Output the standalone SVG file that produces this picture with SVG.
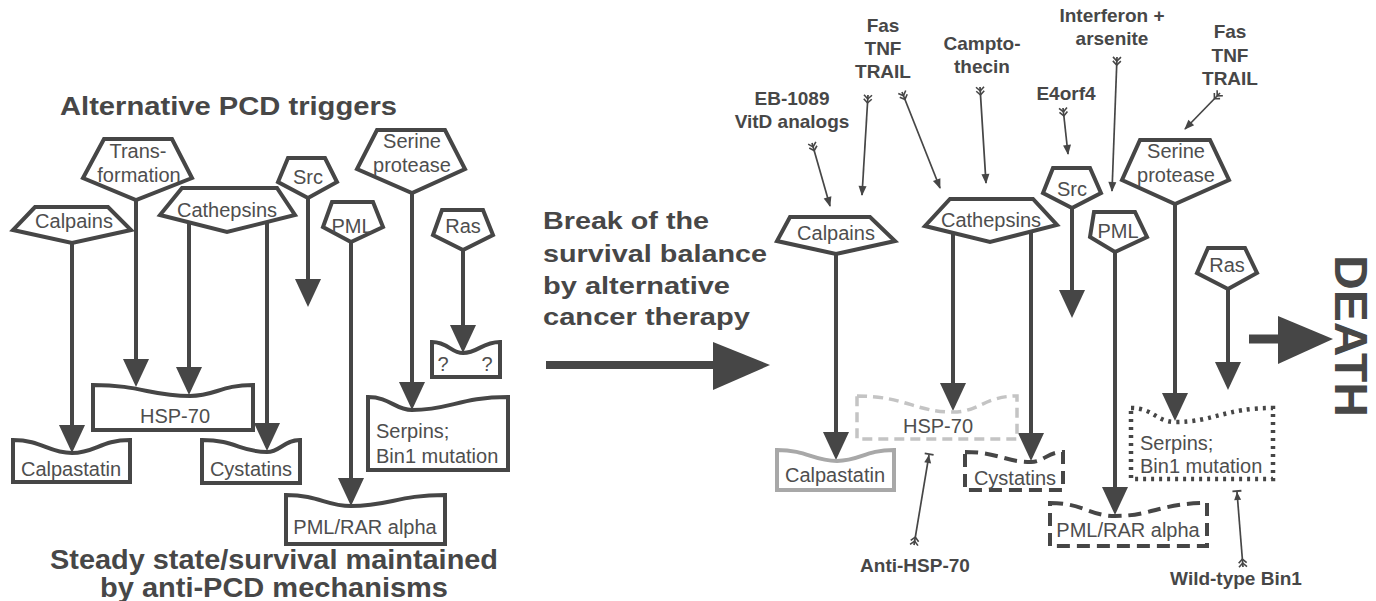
<svg xmlns="http://www.w3.org/2000/svg" width="1376" height="601" viewBox="0 0 1376 601">
  <defs>
    <style>
      .bg { fill: #ffffff; }
      .node { fill: #ffffff; stroke: #464646; stroke-width: 4; stroke-linejoin: miter; }
      .lbl { font-family: "Liberation Sans", Arial, sans-serif; font-size: 20px; fill: #4e4e4e; text-anchor: middle; }
      .lbl-l { text-anchor: start; }
      .head { font-family: "Liberation Sans", Arial, sans-serif; font-weight: bold; fill: #474747; }
      .agent { font-family: "Liberation Sans", Arial, sans-serif; font-weight: bold; font-size: 19px; fill: #474747; text-anchor: middle; }
      .flow { stroke: #464646; stroke-width: 4; fill: none; marker-end: url(#bigHead); }
      .thin { stroke: #464646; stroke-width: 1.7; fill: none; marker-start: url(#tail); marker-end: url(#smallHead); }
      .block { stroke: #464646; stroke-width: 1.7; fill: none; marker-start: url(#tail); marker-end: url(#barHead); }
      .grey { stroke: #a8a8a8; }
      .dash-light { stroke: #c4c4c4; stroke-width: 3.5; stroke-dasharray: 10 6; }
      .dash-dark { stroke-dasharray: 13 7; }
      .dotted { stroke-width: 4.5; stroke-dasharray: 3 5; }
    </style>
    <marker id="bigHead" markerUnits="userSpaceOnUse" markerWidth="28" markerHeight="26" refX="20" refY="13" orient="auto" overflow="visible">
      <path d="M0,0 L28,13 L0,26 Z" fill="#464646"/>
    </marker>
    <marker id="smallHead" markerUnits="userSpaceOnUse" markerWidth="10" markerHeight="8" refX="9" refY="4" orient="auto" overflow="visible">
      <path d="M0,0 L10,4 L0,8 Z" fill="#464646"/>
    </marker>
    <marker id="barHead" markerUnits="userSpaceOnUse" markerWidth="10" markerHeight="10" refX="8" refY="5" orient="auto" overflow="visible">
      <path d="M0,1.5 L8,5 L0,8.5 Z" fill="#464646"/>
      <rect x="8" y="0.5" width="1.8" height="9" fill="#464646"/>
    </marker>
    <marker id="tail" markerUnits="userSpaceOnUse" markerWidth="10" markerHeight="10" refX="0" refY="5" orient="auto" overflow="visible">
      <path d="M0,1 L4,5 L0,9 M4,1 L8,5 L4,9" fill="none" stroke="#464646" stroke-width="1.6"/>
    </marker>
  </defs>

  <rect class="bg" x="0" y="0" width="1376" height="601"/>

  <!-- headings -->
  <g id="headings">
    <text class="head" x="60" y="115" font-size="26" textLength="337" lengthAdjust="spacingAndGlyphs">Alternative PCD triggers</text>
    <text class="head" x="274" y="569" font-size="27" text-anchor="middle" textLength="448" lengthAdjust="spacingAndGlyphs">Steady state/survival maintained</text>
    <text class="head" x="274" y="597" font-size="27" text-anchor="middle" textLength="348" lengthAdjust="spacingAndGlyphs">by anti-PCD mechanisms</text>
    <g class="head" font-size="24">
      <text x="543" y="229" textLength="166" lengthAdjust="spacingAndGlyphs">Break of the</text>
      <text x="543" y="262" textLength="224" lengthAdjust="spacingAndGlyphs">survival balance</text>
      <text x="543" y="294" textLength="187" lengthAdjust="spacingAndGlyphs">by alternative</text>
      <text x="543" y="325" textLength="207" lengthAdjust="spacingAndGlyphs">cancer therapy</text>
    </g>
    <text class="head" font-size="46" transform="translate(1335,255) rotate(90)" textLength="162" lengthAdjust="spacingAndGlyphs">DEATH</text>
  </g>

  <!-- connectors -->
  <g id="connectors">
    <!-- left: steady state -->
    <line class="flow" x1="72" y1="243" x2="72" y2="445"/>
    <line class="flow" x1="136" y1="200" x2="136" y2="379"/>
    <line class="flow" x1="189" y1="222" x2="189" y2="387"/>
    <line class="flow" x1="267" y1="222" x2="267" y2="443"/>
    <line class="flow" x1="308" y1="198" x2="308" y2="299"/>
    <line class="flow" x1="351" y1="242" x2="351" y2="498"/>
    <line class="flow" x1="412" y1="193" x2="412" y2="402"/>
    <line class="flow" x1="463" y1="250" x2="463" y2="345"/>

    <!-- middle transition arrow -->
    <line x1="546" y1="365" x2="716" y2="365" stroke="#464646" stroke-width="8"/>
    <path d="M713,342 L770,365 L713,390 Z" fill="#464646"/>

    <!-- right: after therapy -->
    <line class="flow" x1="836" y1="254" x2="836" y2="452"/>
    <line class="flow" x1="953" y1="233" x2="953" y2="403"/>
    <line class="flow" x1="1031" y1="232" x2="1031" y2="453"/>
    <line class="flow" x1="1072" y1="208" x2="1072" y2="310"/>
    <line class="flow" x1="1115" y1="252" x2="1115" y2="507"/>
    <line class="flow" x1="1175" y1="204" x2="1175" y2="413"/>
    <line class="flow" x1="1228" y1="289" x2="1228" y2="382"/>

    <!-- death arrow -->
    <line x1="1249" y1="339" x2="1282" y2="339" stroke="#464646" stroke-width="9"/>
    <path d="M1278,316 L1333,339 L1278,364 Z" fill="#464646"/>

    <!-- therapy agents -->
    <line class="thin" x1="812" y1="143" x2="830" y2="206"/>
    <line class="thin" x1="868" y1="95" x2="862" y2="195"/>
    <line class="thin" x1="902" y1="92" x2="940" y2="188"/>
    <line class="thin" x1="980" y1="87" x2="986" y2="183"/>
    <line class="thin" x1="1063" y1="108" x2="1068" y2="154"/>
    <line class="thin" x1="1117" y1="57" x2="1112" y2="191"/>
    <line class="thin" x1="1220" y1="93" x2="1185" y2="129"/>
    <line class="block" x1="914" y1="545" x2="929" y2="455"/>
    <line class="block" x1="1243" y1="567" x2="1237" y2="492"/>
  </g>

  <!-- left: trigger nodes -->
  <g id="calpains-l">
    <polygon class="node" points="35,207 108,207 131,230 72,243 13,230"/>
    <text class="lbl" x="74" y="228">Calpains</text>
  </g>
  <g id="transformation-l">
    <polygon class="node" points="104,139 172,139 192,178 136,200 83,178"/>
    <text class="lbl" x="138" y="158">Trans-</text>
    <text class="lbl" x="139" y="182">formation</text>
  </g>
  <g id="cathepsins-l">
    <polygon class="node" points="182,188 277,188 295,215 227,232 160,215"/>
    <text class="lbl" x="227" y="217">Cathepsins</text>
  </g>
  <g id="src-l">
    <polygon class="node" points="288,158 325,158 337,182 308,198 278,182"/>
    <text class="lbl" x="308" y="184">Src</text>
  </g>
  <g id="pml-l">
    <polygon class="node" points="332,202 373,202 383,227 351,242 323,227"/>
    <text class="lbl" x="352" y="233">PML</text>
  </g>
  <g id="serine-l">
    <polygon class="node" points="377,130 445,130 465,169 412,193 357,169"/>
    <text class="lbl" x="412" y="148">Serine</text>
    <text class="lbl" x="412" y="172">protease</text>
  </g>
  <g id="ras-l">
    <polygon class="node" points="442,210 483,210 493,235 463,250 433,235"/>
    <text class="lbl" x="463" y="233">Ras</text>
  </g>

  <!-- left: protective nodes -->
  <g id="calpastatin-l">
    <path class="node" d="M13,440 C42,440 48,453 72,453 C95,453 101,440 130,440 L130,482 L13,482 Z"/>
    <text class="lbl" x="71" y="476">Calpastatin</text>
  </g>
  <g id="hsp70-l">
    <path class="node" d="M93,385 C141,385 151,396 190,396 C215,396 221,385 253,385 L253,430 L93,430 Z"/>
    <text class="lbl" x="175" y="423">HSP-70</text>
  </g>
  <g id="cystatins-l">
    <path class="node" d="M202,440 C235,440 241,452 267,452 C280,452 284,440 300,440 L300,483 L202,483 Z"/>
    <text class="lbl" x="251" y="476">Cystatins</text>
  </g>
  <g id="pmlrar-l">
    <path class="node" d="M286,495 C319,495 326,506 351,506 C389,506 398,495 445,495 L445,544 L286,544 Z"/>
    <text class="lbl" x="365" y="534">PML/RAR alpha</text>
  </g>
  <g id="serpins-l">
    <path class="node" d="M368,397 C390,397 395,410 412,410 C450,410 460,397 508,397 L508,470 L368,470 Z"/>
    <text class="lbl lbl-l" x="376" y="438">Serpins;</text>
    <text class="lbl lbl-l" x="376" y="463">Bin1 mutation</text>
  </g>
  <g id="unknown-l">
    <path class="node" d="M432,342 C448,342 451,353 463,353 C478,353 482,342 500,342 L500,377 L432,377 Z"/>
    <text class="lbl" x="443" y="371" font-size="18">?</text>
    <text class="lbl" x="487" y="371" font-size="18">?</text>
  </g>

  <!-- right: trigger nodes -->
  <g id="calpains-r">
    <polygon class="node" points="790,217 870,217 895,241 836,254 777,241"/>
    <text class="lbl" x="836" y="240">Calpains</text>
  </g>
  <g id="cathepsins-r">
    <polygon class="node" points="950,199 1033,199 1057,225 990,242 925,226"/>
    <text class="lbl" x="991" y="227">Cathepsins</text>
  </g>
  <g id="src-r">
    <polygon class="node" points="1053,168 1090,168 1101,193 1072,208 1043,193"/>
    <text class="lbl" x="1072" y="196">Src</text>
  </g>
  <g id="pml-r">
    <polygon class="node" points="1094,212 1135,212 1147,237 1115,252 1090,237"/>
    <text class="lbl" x="1118" y="238">PML</text>
  </g>
  <g id="serine-r">
    <polygon class="node" points="1140,140 1210,140 1229,180 1175,204 1122,180"/>
    <text class="lbl" x="1176" y="158">Serine</text>
    <text class="lbl" x="1176" y="182">protease</text>
  </g>
  <g id="ras-r">
    <polygon class="node" points="1208,248 1245,248 1257,273 1228,289 1197,273"/>
    <text class="lbl" x="1227" y="272" font-size="18">Ras</text>
  </g>

  <!-- right: protective nodes after therapy -->
  <g id="calpastatin-r">
    <path class="node grey" d="M777,450 C807,450 813,461 837,461 C860,461 865,450 894,450 L894,490 L777,490 Z"/>
    <text class="lbl" x="835" y="482">Calpastatin</text>
  </g>
  <g id="hsp70-r">
    <path class="node dash-light" d="M857,396 C905,396 915,412 953,412 C979,412 985,396 1017,396 L1017,439 L857,439 Z"/>
    <text class="lbl" x="938" y="433">HSP-70</text>
  </g>
  <g id="cystatins-r">
    <path class="node dash-dark" d="M965,452 C998,452 1005,462 1031,462 C1044,462 1047,452 1063,452 L1063,490 L965,490 Z"/>
    <text class="lbl" x="1015" y="485">Cystatins</text>
  </g>
  <g id="pmlrar-r">
    <path class="node dash-dark" d="M1050,503 C1083,503 1090,516 1115,516 C1152,516 1161,503 1207,503 L1207,546 L1050,546 Z"/>
    <text class="lbl" x="1128" y="537">PML/RAR alpha</text>
  </g>
  <g id="serpins-r">
    <path class="node dotted" d="M1131,408 C1153,408 1157,422 1175,422 C1214,422 1224,408 1273,408 L1273,479 L1131,479 Z"/>
    <text class="lbl lbl-l" x="1140" y="450">Serpins;</text>
    <text class="lbl lbl-l" x="1140" y="473">Bin1 mutation</text>
  </g>

  <!-- therapy agent labels -->
  <g id="agent-eb1089">
    <text class="agent" x="792" y="105">EB-1089</text>
    <text class="agent" x="792" y="128">VitD analogs</text>
  </g>
  <g id="agent-fas-1">
    <text class="agent" x="883" y="32">Fas</text>
    <text class="agent" x="883" y="55">TNF</text>
    <text class="agent" x="883" y="78">TRAIL</text>
  </g>
  <g id="agent-camptothecin">
    <text class="agent" x="982" y="50">Campto-</text>
    <text class="agent" x="982" y="73">thecin</text>
  </g>
  <g id="agent-e4orf4">
    <text class="agent" x="1066" y="100">E4orf4</text>
  </g>
  <g id="agent-interferon">
    <text class="agent" x="1112" y="22">Interferon +</text>
    <text class="agent" x="1112" y="45">arsenite</text>
  </g>
  <g id="agent-fas-2">
    <text class="agent" x="1230" y="38">Fas</text>
    <text class="agent" x="1230" y="62">TNF</text>
    <text class="agent" x="1230" y="85">TRAIL</text>
  </g>
  <g id="agent-anti-hsp70">
    <text class="agent" x="915" y="572">Anti-HSP-70</text>
  </g>
  <g id="agent-bin1">
    <text class="agent" x="1236" y="585">Wild-type Bin1</text>
  </g>
</svg>
